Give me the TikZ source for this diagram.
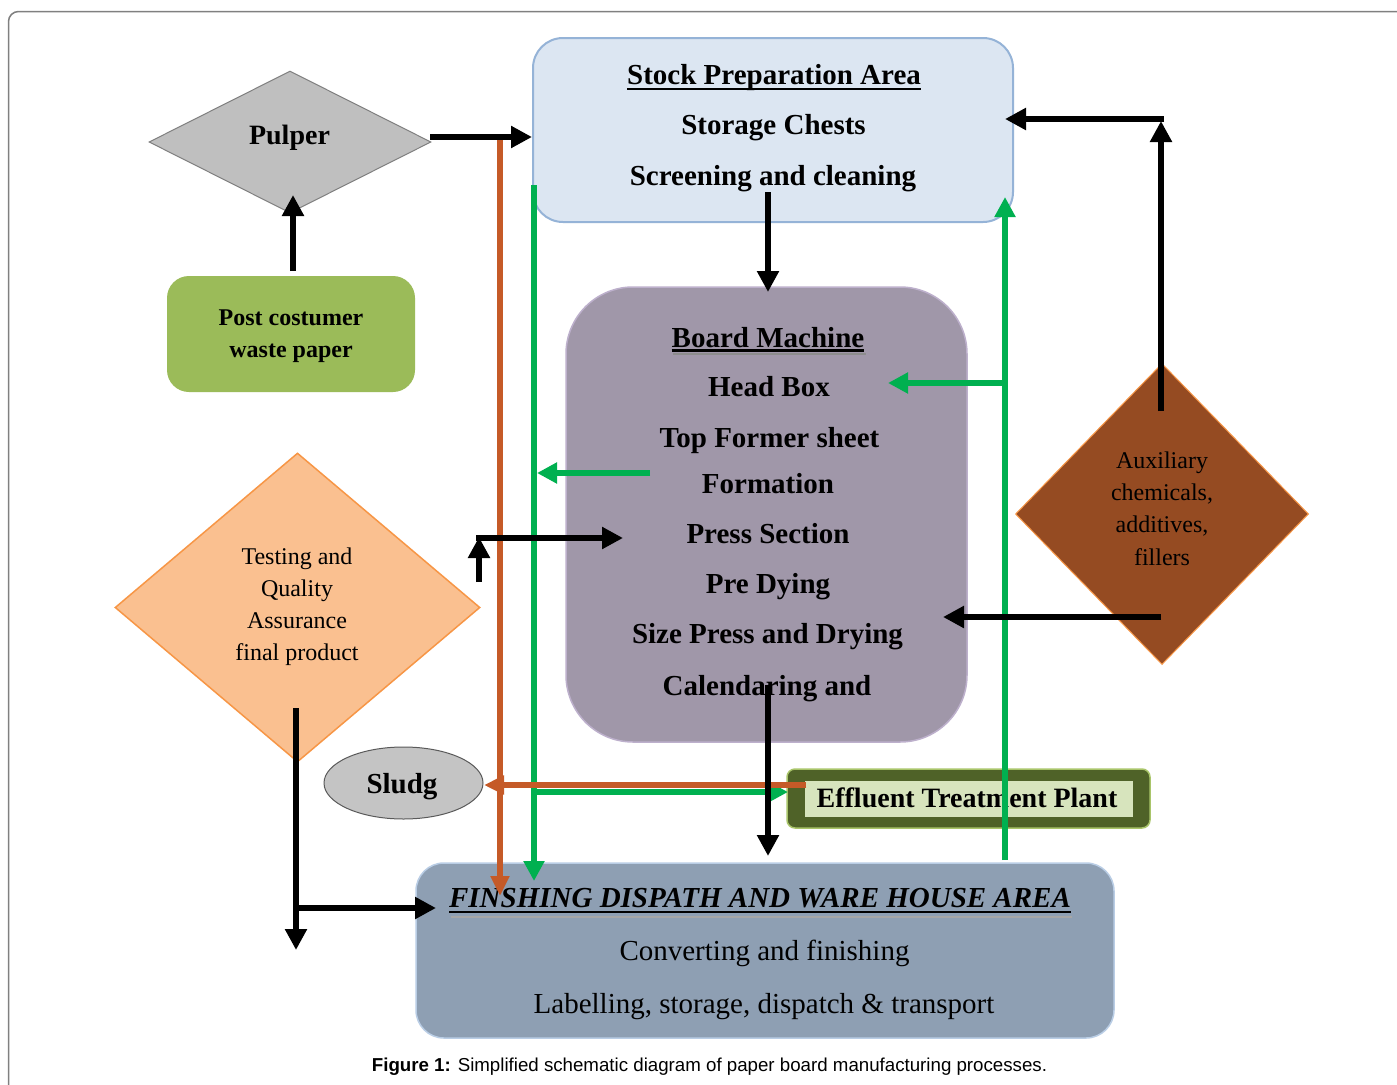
\documentclass[tikz,border=0pt]{standalone}
\usepackage{fontspec}
\setmainfont{Liberation Serif}
\newfontfamily\capfont{Liberation Sans}
\usetikzlibrary{shapes.geometric,arrows.meta}
\definecolor{pulperfill}{HTML}{BFBFBF}
\definecolor{pulperedge}{HTML}{7F7F7F}
\definecolor{postgreen}{HTML}{9BBB59}
\definecolor{stockfill}{HTML}{DCE6F2}
\definecolor{stockedge}{HTML}{95B3D7}
\definecolor{boardfill}{HTML}{A097A9}
\definecolor{boardedge}{HTML}{BDB0CC}
\definecolor{auxfill}{HTML}{954B22}
\definecolor{orangeedge}{HTML}{F79646}
\definecolor{testfill}{HTML}{FAC090}
\definecolor{sludgefill}{HTML}{C4C4C4}
\definecolor{sludgeedge}{HTML}{5A5A5A}
\definecolor{etpdark}{HTML}{4F6228}
\definecolor{etpedge}{HTML}{A9C56A}
\definecolor{etplight}{HTML}{D7E4BD}
\definecolor{finfill}{HTML}{8E9FB3}
\definecolor{finedge}{HTML}{B9CDE5}
\definecolor{flowgreen}{HTML}{00B050}
\definecolor{floworange}{HTML}{C55A28}
\definecolor{framegray}{HTML}{808080}
\begin{document}
\begin{tikzpicture}[x=1pt,y=-1pt,
  txt/.style={anchor=base,inner sep=0pt,outer sep=0pt},
  bigbold/.style={font=\fontsize{29}{34}\selectfont\bfseries},
  pulpfont/.style={font=\fontsize{28}{34}\selectfont\bfseries},
  postfont/.style={font=\fontsize{24}{30}\selectfont\bfseries},
  smallreg/.style={font=\fontsize{24}{30}\selectfont},
  bigreg/.style={font=\fontsize{29}{34}\selectfont},
  fintitle/.style={font=\fontsize{29}{34}\selectfont\bfseries\itshape},
  box/.style={rectangle,inner sep=0pt},
  blk/.style={line width=6.5pt,-{Triangle[length=21pt,width=21pt]}},
  grn/.style={draw=flowgreen,line width=5.5pt,-{Triangle[length=20pt,width=20pt]}},
  org/.style={draw=floworange,line width=5.5pt,-{Triangle[length=20pt,width=18pt]}},
  uline/.style={line width=2.4pt}
]
\useasboundingbox (0,0) rectangle (1397,1084);
\fill[white] (0,0) rectangle (1397,1084);
% frame
\draw[framegray,line width=1.5pt,rounded corners=10pt] (8.5,1110) -- (8.5,11.5) -- (1420,11.5);

% ---------- shapes ----------
\node[diamond,draw=pulperedge,line width=1pt,fill=pulperfill,inner sep=0pt,minimum width=282pt,minimum height=142pt] (pulper) at (290,142) {};
\node[box,rounded corners=22pt,fill=postgreen,minimum width=248pt,minimum height=116pt] (post) at (291,334) {};
\node[box,rounded corners=30pt,draw=stockedge,line width=2pt,fill=stockfill,minimum width=480pt,minimum height=184pt] (stock) at (773,130) {};
\node[box,rounded corners=67pt,draw=boardedge,line width=1.5pt,fill=boardfill,minimum width=401pt,minimum height=455pt] (board) at (766.5,514.5) {};
\node[diamond,draw=orangeedge,line width=1pt,fill=auxfill,inner sep=0pt,minimum width=293pt,minimum height=301pt] (aux) at (1162,514) {};
\node[diamond,draw=orangeedge,line width=1.5pt,fill=testfill,inner sep=0pt,minimum width=365pt,minimum height=309pt] (test) at (297.5,607.5) {};
\node[ellipse,draw=sludgeedge,line width=1pt,fill=sludgefill,inner sep=0pt,minimum width=159pt,minimum height=72pt] (sludge) at (403.5,783) {};
\node[box,rounded corners=8pt,draw=etpedge,line width=1.5pt,fill=etpdark,minimum width=363pt,minimum height=59pt] (etp) at (968.5,798.5) {};
\node[box,fill=etplight,minimum width=328pt,minimum height=36pt] (etpin) at (969,799) {};
\node[box,rounded corners=28pt,draw=finedge,line width=1.5pt,fill=finfill,minimum width=698pt,minimum height=175pt] (fin) at (765,950.5) {};

% ---------- texts ----------
\node[txt,pulpfont] (pulpt) at (289.5,144) {Pulper};
\node[txt,postfont] (post1) at (291,325) {Post costumer};
\node[txt,postfont] (post2) at (291,357) {waste paper};

\node[txt,bigbold] (st1) at (774,84) {Stock Preparation Area};
\node[txt,bigbold] (st2) at (773.5,134) {Storage Chests};
\node[txt,bigbold] (st3) at (773,185) {Screening and cleaning};
\draw[uline] ([yshift=-5pt]st1.base west) -- ([yshift=-5pt]st1.base east);

\node[txt,bigbold] (bm1) at (768,347) {Board Machine};
\draw[line width=2.5pt,black!45] ([xshift=1.5pt,yshift=-7pt]bm1.base west) -- ([xshift=1.5pt,yshift=-7pt]bm1.base east);
\draw[uline] ([yshift=-3.5pt]bm1.base west) -- ([yshift=-3.5pt]bm1.base east);
\node[txt,bigbold] (bm2) at (769,396) {Head Box};
\node[txt,bigbold] (bm3) at (769.5,447) {Top Former sheet};
\node[txt,bigbold] (bm4) at (768,493) {Formation};
\node[txt,bigbold] (bm5) at (768,543) {Press Section};
\node[txt,bigbold] (bm6) at (768,593) {Pre Dying};
\node[txt,bigbold] (bm7) at (767.5,643) {Size Press and Drying};
\node[txt,bigbold] (bm8) at (767,695) {Calendaring and};

\node[txt,smallreg] (ax1) at (1162,468) {Auxiliary};
\node[txt,smallreg] (ax2) at (1162,500) {chemicals,};
\node[txt,smallreg] (ax3) at (1162,532) {additives,};
\node[txt,smallreg] (ax4) at (1162,565) {fillers};

\node[txt,smallreg] (ts1) at (297,564) {Testing and};
\node[txt,smallreg] (ts2) at (297,596) {Quality};
\node[txt,smallreg] (ts3) at (297,628) {Assurance};
\node[txt,smallreg] (ts4) at (297,660) {final product};

\node[txt,bigbold] (sl) at (402,793) {Sludg};
\node[txt,pulpfont] (etpt) at (967,807) {Effluent Treatment Plant};

\node[txt,fintitle] (fn1) at (760,907) {FINSHING DISPATH AND WARE HOUSE AREA};
\draw[line width=2.5pt,black!35] ([xshift=1.5pt,yshift=-10pt]fn1.base west) -- ([xshift=1.5pt,yshift=-10pt]fn1.base east);
\draw[uline] ([yshift=-5pt]fn1.base west) -- ([yshift=-5pt]fn1.base east);
\node[txt,bigreg] (fn2) at (764.5,960) {Converting and finishing};
\node[txt,bigreg] (fn3) at (764,1013) {Labelling, storage, dispatch \& transport};

\node[txt,font=\capfont\fontsize{18.7}{22}\selectfont] (cap) at (709.5,1071) {\textbf{Figure 1:} Simplified schematic diagram of paper board manufacturing processes.};

% ---------- connector end points ----------
\coordinate (a1) at (293,271);   \coordinate (a2) at (293,195);
\coordinate (b1) at (430,137);   \coordinate (b2) at (532,137);
\coordinate (c1) at (768,192);   \coordinate (c2) at (768,292);
\coordinate (d1) at (768,685);   \coordinate (d2) at (768,856);
\coordinate (e1) at (500,140);   \coordinate (e2) at (500,896);
\coordinate (f1) at (534,185);   \coordinate (f2) at (534,881);
\coordinate (g1) at (650,473);   \coordinate (g2) at (537,473);
\coordinate (h1) at (1005,860);  \coordinate (h2) at (1005,197);
\coordinate (i1) at (1005,383);  \coordinate (i2) at (888,383);
\coordinate (j1) at (1161,411);  \coordinate (j2) at (1161,121);
\coordinate (k1) at (1164,119);  \coordinate (k2) at (1005,119);
\coordinate (l1) at (1161,617);  \coordinate (l2) at (943,617);
\coordinate (m1) at (296,708);   \coordinate (m2) at (296,950);
\coordinate (n1) at (296,908);   \coordinate (n2) at (436,908);
\coordinate (o1) at (479,582);   \coordinate (o2) at (479,537);
\coordinate (p1) at (476,538);   \coordinate (p2) at (623,538);
\coordinate (q1) at (806,785);   \coordinate (q2) at (484,785);
\coordinate (r1) at (534,792);   \coordinate (r2) at (788,792);

% ---------- connectors ----------
\draw[grn] (f1) -- (f2);
\draw[grn] (g1) -- (g2);
\draw[grn] (h1) -- (h2);
\draw[grn] (i1) -- (i2);
\draw[grn] (r1) -- (r2);
\draw[org] (e1) -- (e2);
\draw[org] (q1) -- (q2);
\draw[blk] (a1) -- (a2);
\draw[blk] (b1) -- (b2);
\draw[blk] (c1) -- (c2);
\draw[blk] (d1) -- (d2);
\draw[blk] (j1) -- (j2);
\draw[blk] (k1) -- (k2);
\draw[blk] (l1) -- (l2);
\draw[blk] (m1) -- (m2);
\draw[blk] (n1) -- (n2);
\draw[blk] (o1) -- (o2);
\draw[blk] (p1) -- (p2);
\end{tikzpicture}
\end{document}
